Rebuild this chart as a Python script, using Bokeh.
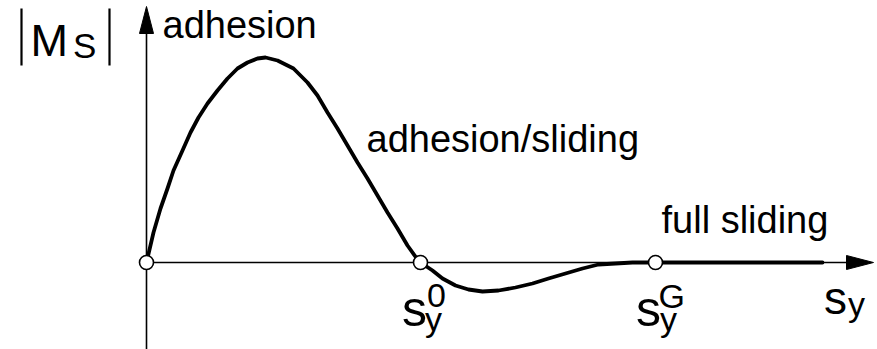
from bokeh.plotting import figure
from bokeh.models import Range1d, Label
from bokeh.embed import file_html
from bokeh.resources import INLINE

# Magnitude of the moment |M_S| over the slip s_y (arbitrary units)
s_y = [0.00, 0.07, 0.14, 0.21, 0.27, 0.36, 0.44, 0.52, 0.61, 0.71,
       0.81, 0.91, 1.01, 1.11, 1.19, 1.31, 1.41, 1.47, 1.61, 1.71,
       1.81, 1.91, 2.01, 2.11, 2.21, 2.31, 2.41, 2.51, 2.61, 2.71,
       2.74, 2.86, 2.96, 3.09, 3.22, 3.36, 3.52, 3.69, 3.86, 4.02,
       4.19, 4.36, 4.52, 4.69, 4.86, 5.09, 6.76]
m_s = [0.00, 0.30, 0.54, 0.74, 0.92, 1.12, 1.30, 1.45, 1.59, 1.72,
       1.84, 1.94, 2.00, 2.04, 2.05, 2.02, 1.97, 1.94, 1.80, 1.67,
       1.50, 1.34, 1.17, 1.00, 0.84, 0.67, 0.50, 0.34, 0.17, 0.03,
       0.00, -0.08, -0.16, -0.23, -0.27, -0.29, -0.28, -0.25, -0.21, -0.16,
       -0.11, -0.06, -0.02, -0.01, 0.00, 0.00, 0.00]

# Characteristic slip values
s_zero = 2.74   # s_y^0: moment changes sign
s_full = 5.09   # s_y^G: full sliding begins
marker_s = [0.0, s_zero, s_full]
marker_m = [0.0, 0.0, 0.0]

# Axis extents
x_axis_end = 7.27
y_axis_end = 2.56
y_axis_start = -0.87
head_len = 0.27
head_half = 0.07

FONT = "Liberation Sans"
LIFT = 0.13  # baseline correction for the labels

p = figure(width=877, height=349,
           x_range=Range1d(-1.46, 7.31), y_range=Range1d(-0.87, 2.62),
           x_axis_type=None, y_axis_type=None,
           output_backend="svg", toolbar_location=None,
           min_border=0, min_border_left=0, min_border_right=0,
           min_border_top=0, min_border_bottom=0)
p.grid.visible = False
p.outline_line_color = None
p.background_fill_color = "white"
p.border_fill_color = "white"

# axes with filled arrow heads
p.line([0, x_axis_end - head_len + 0.02], [0, 0], line_color="black", line_width=1.6)
p.line([0, 0], [y_axis_start, y_axis_end - head_len + 0.02], line_color="black", line_width=1.6)
p.patch([x_axis_end, x_axis_end - head_len, x_axis_end - head_len],
        [0, head_half, -head_half], color="black", line_width=1)
p.patch([0, -head_half, head_half],
        [y_axis_end, y_axis_end - head_len, y_axis_end - head_len], color="black", line_width=1)

# moment curve
p.line(s_y, m_s, line_color="black", line_width=3.8, line_join="round", line_cap="round")

# characteristic points
p.scatter(marker_s, marker_m, size=14, fill_color="white", line_color="black", line_width=1.6)


def label(x, y, text, size, align="left"):
    p.add_layout(Label(x=x, y=y + LIFT, text=text, text_font=FONT, text_font_size=size,
                       text_color="black", text_align=align, text_baseline="alphabetic"))


# region names
label(0.16, 2.25, "adhesion", "38px")
label(2.20, 1.11, "adhesion/sliding", "38px")
label(5.15, 0.30, "full sliding", "38px")

# ordinate label |M_S| with thin absolute-value bars
p.segment(x0=[-1.25, -0.37], y0=[1.97, 1.97], x1=[-1.25, -0.37], y1=[2.54, 2.54],
          line_color="black", line_width=2.2)
label(-1.16, 2.09, "M", "45px")
label(-0.735, 2.04, "S", "35px")

# slip marks s_y^0 and s_y^G
label(s_zero - 0.185, -0.59, "s", "50px")
label(s_zero + 0.066, -0.46, "0", "34px")
label(s_zero + 0.045, -0.69, "y", "34px")
label(s_full - 0.195, -0.59, "s", "50px")
label(s_full + 0.03, -0.46, "G", "34px")
label(s_full + 0.045, -0.69, "y", "34px")

# abscissa label s_y
label(6.775, -0.48, "s", "46px")
label(7.015, -0.54, "y", "34px")

open("out.html", "w").write(file_html(p, INLINE))
